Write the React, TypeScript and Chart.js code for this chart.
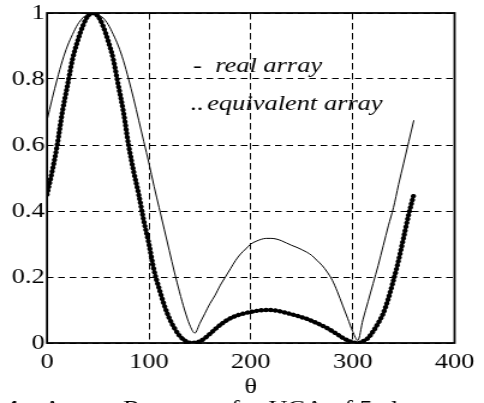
import React, { useEffect, useRef } from 'react';
import { Chart, registerables } from 'chart.js';

Chart.register(...registerables);

// ---- data ----
const theta = [
  0, 5, 10, 15, 20, 25, 30, 35, 40, 45, 50, 55, 60, 65, 70, 75, 80, 85, 90, 95,
  100, 105, 110, 115, 120, 125, 130, 135, 140, 145, 150, 155, 160, 165, 170, 175,
  180, 185, 190, 195, 200, 205, 210, 215, 220, 225, 230, 235, 240, 245, 250, 255,
  260, 265, 270, 275, 280, 285, 290, 295, 300, 305, 310, 315, 320, 325, 330, 335,
  340, 345, 350, 355, 360,
];

const realArray = [
  0.675, 0.74, 0.8, 0.855, 0.9, 0.935, 0.965, 0.985, 0.997, 1.0, 0.995, 0.985, 0.965, 0.935, 0.9, 0.855, 0.8, 0.74, 0.675, 0.61,
  0.545, 0.475, 0.41, 0.345, 0.28, 0.215, 0.155, 0.1, 0.055, 0.03, 0.06, 0.09, 0.12, 0.145, 0.175, 0.2,
  0.225, 0.25, 0.27, 0.285, 0.3, 0.308, 0.314, 0.317, 0.317, 0.315, 0.31, 0.303, 0.296, 0.29, 0.283, 0.275,
  0.265, 0.25, 0.235, 0.215, 0.19, 0.155, 0.115, 0.075, 0.035, 0.008, 0.07, 0.125, 0.18, 0.235, 0.295, 0.355,
  0.41, 0.48, 0.545, 0.61, 0.675,
];

const equivalentArray = [
  0.45, 0.52, 0.6, 0.7, 0.78, 0.86, 0.915, 0.96, 0.99, 1.0, 0.99, 0.96, 0.915, 0.86, 0.78, 0.7, 0.6, 0.52, 0.45, 0.37,
  0.3, 0.22, 0.165, 0.115, 0.075, 0.045, 0.022, 0.008, 0.001, 0.001, 0.005, 0.015, 0.028, 0.042, 0.055, 0.066,
  0.075, 0.082, 0.087, 0.091, 0.094, 0.097, 0.099, 0.1, 0.1, 0.098, 0.095, 0.091, 0.087, 0.083, 0.078, 0.073,
  0.067, 0.06, 0.053, 0.045, 0.036, 0.026, 0.016, 0.008, 0.002, 0.0, 0.005, 0.015, 0.035, 0.06, 0.09, 0.135,
  0.19, 0.25, 0.32, 0.39, 0.45,
];

const xTicks = [0, 100, 200, 300, 400];
const yTicks = [0, 0.2, 0.4, 0.6, 0.8, 1];
const xTitle = 'θ';
const legendReal = 'real array';
const legendEquivalent = 'equivalent array';
const captionNumber = '4';
const captionWords = ['Array', 'Response for UCA of 5 elements'];

// ---- layout (display px) ----
const DISPLAY_W = 484;
const DISPLAY_H = 403;
const SX = 1.2; // horizontal stretch of the reference picture
const W = Math.round(DISPLAY_W / SX);
const H = DISPLAY_H;
const FONT = '"Liberation Serif", "Times New Roman", serif';

const framePlugin = {
  id: 'frame',
  beforeDatasetsDraw(chart: any) {
    const { ctx, chartArea } = chart;
    ctx.save();
    ctx.strokeStyle = '#000';
    ctx.lineWidth = 1.8;
    ctx.setLineDash([]);
    ctx.strokeRect(chartArea.left, chartArea.top, chartArea.right - chartArea.left, chartArea.bottom - chartArea.top);
    ctx.restore();
  },
  afterDraw(chart: any) {
    const { ctx } = chart;
    ctx.save();
    ctx.fillStyle = '#000';
    ctx.textBaseline = 'alphabetic';
    ctx.textAlign = 'left';
    // legend texts
    ctx.font = `22px ${FONT}`;
    ctx.fillText('-', 193 / SX, 72);
    ctx.fillText('..', 190 / SX, 110);
    ctx.font = `italic 22px ${FONT}`;
    ctx.fillText(legendReal, 215 / SX, 72);
    ctx.fillText(legendEquivalent, 207 / SX, 110);
    // caption (cut off by the picture edge)
    ctx.font = `bold 22px ${FONT}`;
    ctx.fillText(captionNumber, 5 / SX, 415);
    ctx.font = `22px ${FONT}`;
    ctx.fillText(captionWords[0], 43 / SX, 415);
    ctx.fillText(captionWords[1], 123 / SX, 415);
    ctx.restore();
  },
};

export default function App() {
  const canvasRef = useRef<HTMLCanvasElement | null>(null);

  useEffect(() => {
    const canvas = canvasRef.current;
    if (!canvas) return;
    const realData = theta.map((t, i) => ({ x: t, y: realArray[i] }));
    const eqData = theta.map((t, i) => ({ x: t, y: equivalentArray[i] }));

    const chart = new Chart(canvas, {
      type: 'line',
      data: {
        datasets: [
          {
            label: legendReal,
            data: realData,
            borderColor: '#000',
            borderWidth: 1,
            pointRadius: 0,
            cubicInterpolationMode: 'monotone',
            fill: false,
          },
          {
            label: legendEquivalent,
            data: eqData,
            borderColor: '#000',
            borderWidth: 4.4,
            borderDash: [0.01, 3.9],
            borderCapStyle: 'round',
            pointRadius: 0,
            cubicInterpolationMode: 'monotone',
            fill: false,
          },
          {
            label: legendEquivalent + ' core',
            data: eqData,
            borderColor: '#000',
            borderWidth: 2.4,
            pointRadius: 0,
            cubicInterpolationMode: 'monotone',
            fill: false,
          },
        ],
      },
      options: {
        animation: false,
        responsive: false,
        devicePixelRatio: 1,
        layout: { padding: { top: 12, right: W - 461 / SX, bottom: 0, left: 0 } },
        plugins: {
          legend: { display: false },
          tooltip: { enabled: false },
          title: { display: false },
        },
        scales: {
          x: {
            type: 'linear',
            min: 0,
            max: 400,
            afterBuildTicks: (s: any) => {
              s.ticks = xTicks.map((v) => ({ value: v }));
            },
            afterFit: (s: any) => {
              s.height = 60;
            },
            ticks: {
              color: '#000',
              font: { family: FONT, size: 22, lineHeight: 1 },
              padding: 8,
              maxRotation: 0,
              autoSkip: false,
              callback: (v: any) => `${v}`,
            },
            grid: { color: '#000', lineWidth: 1, drawTicks: false },
            border: { display: false, dash: [6.5, 3.5] },
            title: {
              display: true,
              text: xTitle,
              color: '#000',
              font: { family: FONT, size: 22 },
              padding: { top: 0, bottom: 3 },
            },
          },
          y: {
            type: 'linear',
            min: 0,
            max: 1,
            afterBuildTicks: (s: any) => {
              s.ticks = yTicks.map((v) => ({ value: v }));
            },
            afterFit: (s: any) => {
              s.width = 47 / SX;
            },
            ticks: {
              color: '#000',
              font: { family: FONT, size: 22, lineHeight: 1 },
              padding: 2,
              autoSkip: false,
              callback: (v: any) => `${v}`,
            },
            grid: { color: '#000', lineWidth: 1, drawTicks: false },
            border: { display: false, dash: [5.5, 4] },
          },
        },
      },
      plugins: [framePlugin],
    });
    return () => chart.destroy();
  }, []);

  return (
    <div style={{ position: 'absolute', left: 0, top: 0, width: DISPLAY_W, height: DISPLAY_H, overflow: 'hidden', background: '#fff' }}>
      <canvas
        ref={canvasRef}
        width={W}
        height={H}
        style={{ width: `${DISPLAY_W}px`, height: `${DISPLAY_H}px`, display: 'block' }}
      />
    </div>
  );
}
